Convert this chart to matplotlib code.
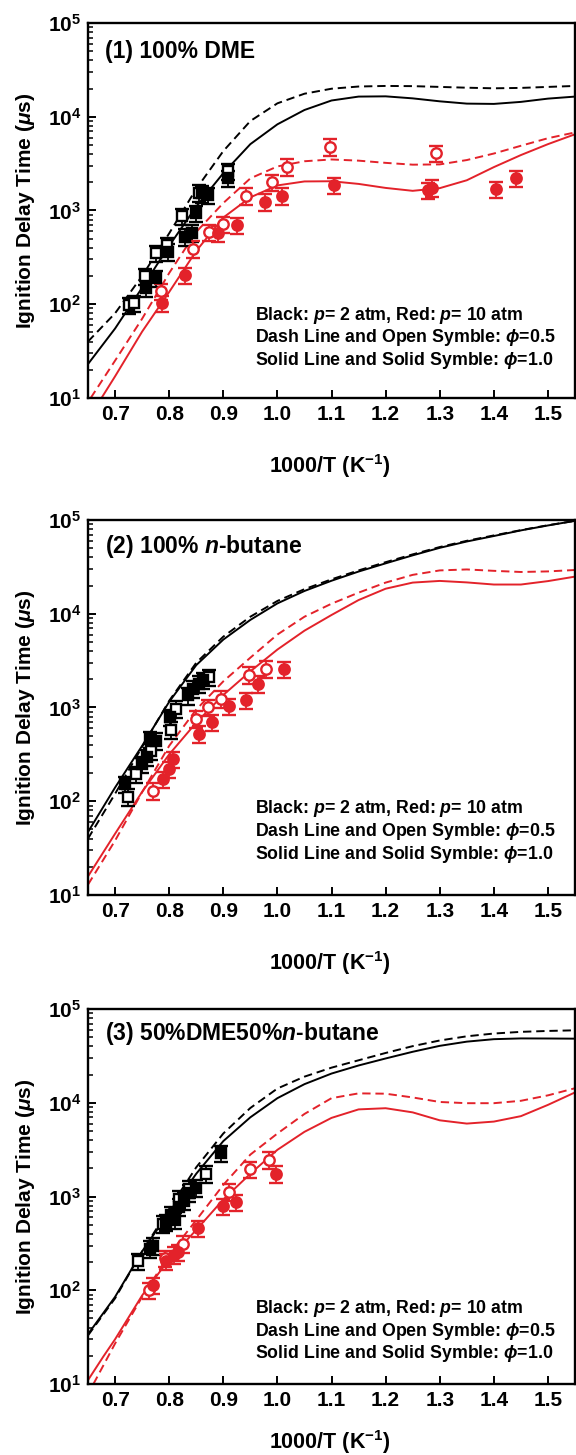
import numpy as np
import matplotlib
matplotlib.use("Agg")
from matplotlib import pyplot as plt
from matplotlib.ticker import LogLocator, NullLocator

# ---------------- data ----------------
# (1) 100% DME
p1_sq_open_x = [0.725, 0.735, 0.755, 0.776, 0.796, 0.824, 0.856, 0.908]
p1_sq_open_y = [98, 103, 200, 350, 425, 870, 1540, 2630]
p1_sq_fill_x = [0.758, 0.776, 0.798, 0.830, 0.842, 0.850, 0.861, 0.871, 0.908]
p1_sq_fill_y = [148, 189, 364, 526, 580, 933, 1520, 1460, 2200]
p1_ci_open_x = [0.785, 0.844, 0.874, 0.899, 0.942, 0.990, 1.018, 1.097, 1.294]
p1_ci_open_y = [138, 390, 585, 718, 1440, 2000, 2930, 4800, 4100]
p1_ci_fill_x = [0.787, 0.830, 0.890, 0.926, 0.977, 1.008, 1.105, 1.279, 1.285, 1.404, 1.441]
p1_ci_fill_y = [102, 205, 572, 700, 1240, 1430, 1870, 1655, 1750, 1680, 2200]

grid_x = [0.65, 0.70, 0.75, 0.80, 0.85, 0.90, 0.95, 1.00, 1.05, 1.10,
          1.15, 1.20, 1.25, 1.30, 1.35, 1.40, 1.45, 1.50, 1.55]

p1_bk_solid = [23, 55, 150, 420, 1100, 2500, 5100, 8300, 11800, 14900,
               16400, 16500, 15700, 14600, 13800, 13700, 14400, 15600, 16400]
p1_bk_dash = [40, 80, 200, 570, 1700, 4300, 9000, 13900, 17600, 19900,
              21000, 21300, 21200, 20800, 20400, 20100, 20300, 20800, 21300]
p1_rd_solid_x = [0.675] + grid_x[1:]
p1_rd_solid = [10, 17, 51, 135, 370, 840, 1380, 1850, 2040, 2050,
               1920, 1740, 1620, 1730, 2100, 2900, 3900, 5100, 6500]
p1_rd_dash_x = [0.655] + grid_x[1:]
p1_rd_dash = [10, 25, 70, 215, 590, 1200, 2200, 2950, 3350, 3500,
              3400, 3220, 3080, 3100, 3450, 4050, 4900, 5900, 6800]

# (2) 100% n-butane
p2_sq_open_x = [0.724, 0.738, 0.767, 0.804, 0.813, 0.874]
p2_sq_open_y = [112, 195, 346, 580, 968, 2110]
p2_sq_fill_x = [0.718, 0.749, 0.759, 0.764, 0.776, 0.801, 0.834, 0.844, 0.856, 0.862]
p2_sq_fill_y = [152, 249, 294, 461, 440, 789, 1345, 1585, 1800, 1945]
p2_ci_open_x = [0.771, 0.850, 0.871, 0.896, 0.948, 0.978]
p2_ci_open_y = [129, 757, 1009, 1240, 2240, 2600]
p2_ci_fill_x = [0.788, 0.800, 0.807, 0.856, 0.880, 0.910, 0.942, 0.965, 1.012]
p2_ci_fill_y = [172, 220, 282, 523, 697, 1035, 1190, 1795, 2550]

p2_bk_solid = [47, 140, 390, 1150, 2830, 5300, 8600, 12900, 17500, 22500,
               28200, 34500, 42000, 50500, 59000, 67500, 77500, 87500, 98000]
p2_bk_dash = [40, 120, 380, 1180, 3000, 5700, 9300, 13700, 18300, 23300,
              29000, 35500, 43000, 51500, 60000, 68500, 78000, 88000, 98000]
p2_rd_solid = [15.8, 45, 126, 316, 690, 1360, 2430, 4150, 6600, 9700,
               14000, 18500, 21500, 22400, 21600, 20500, 20500, 22300, 24900]
p2_rd_dash = [12.9, 38, 125, 390, 950, 1900, 3400, 6000, 9300, 12800,
              16800, 21500, 26000, 29000, 29700, 28700, 27900, 28300, 29300]

# (3) 50%DME50%n-butane
p3_sq_open_x = [0.742, 0.788, 0.818, 0.837, 0.868]
p3_sq_open_y = [205, 513, 946, 1210, 1743]
p3_sq_fill_x = [0.764, 0.770, 0.795, 0.804, 0.810, 0.819, 0.828, 0.837, 0.849, 0.896]
p3_sq_fill_y = [277, 300, 530, 640, 560, 780, 906, 1100, 1240, 2900]
p3_ci_open_x = [0.763, 0.793, 0.825, 0.910, 0.950, 0.985]
p3_ci_open_y = [100, 220, 314, 1130, 1950, 2480]
p3_ci_fill_x = [0.771, 0.795, 0.808, 0.816, 0.853, 0.899, 0.924, 0.997]
p3_ci_fill_y = [113, 205, 240, 255, 462, 790, 872, 1743]

p3_bk_solid = [34, 85, 260, 680, 1750, 3900, 7000, 11200, 15800, 20500,
               25000, 29700, 35000, 40500, 44900, 47700, 48600, 48500, 48300]
p3_bk_dash = [33, 82, 260, 740, 2050, 4700, 8800, 14200, 19000, 23700,
              28400, 34000, 40200, 46200, 51200, 54800, 57100, 58400, 59300]
p3_rd_solid_x = [0.65, 0.678, 0.70, 0.75, 0.80, 0.85, 0.90, 0.95, 1.00, 1.05,
                 1.10, 1.15, 1.20, 1.25, 1.30, 1.35, 1.40, 1.45, 1.50, 1.55]
p3_rd_solid = [11, 19.5, 30, 88, 215, 440, 930, 1750, 3150, 4900,
               6900, 8500, 8750, 7900, 6500, 6000, 6300, 7200, 9500, 12900]
p3_rd_dash_x = [0.66, 0.70, 0.75, 0.80, 0.85, 0.90, 0.95, 1.00, 1.05, 1.10,
                1.15, 1.20, 1.25, 1.30, 1.35, 1.40, 1.45, 1.50, 1.55]
p3_rd_dash = [10, 27, 85, 240, 560, 1330, 2800, 4700, 7600, 11200,
              12600, 12500, 11400, 10200, 9900, 9900, 10500, 12000, 14300]

titles = ["(1) 100% DME", "(2) 100% $\\it{n}$-butane",
          "(3) 50%DME50%$\\it{n}$-butane"]
note_lines = ["Black: $\\it{p}$= 2 atm, Red: $\\it{p}$= 10 atm",
              "Dash Line and Open Symble: $\\phi$=0.5",
              "Solid Line and Solid Symble: $\\phi$=1.0"]
err_frac = 0.2

# ---------------- style ----------------
plt.rcParams['font.family'] = ['Liberation Sans', 'DejaVu Sans']
plt.rcParams['font.weight'] = 'bold'
plt.rcParams['mathtext.fontset'] = 'custom'
plt.rcParams['mathtext.rm'] = 'Liberation Sans:bold'
plt.rcParams['mathtext.it'] = 'Liberation Sans:italic:bold'
plt.rcParams['mathtext.bf'] = 'Liberation Sans:bold'
plt.rcParams['lines.scale_dashes'] = False

RED = '#E3222A'
BLK = 'black'

fig = plt.figure(figsize=(5.76, 14.55), dpi=100)
bottoms = [0.7265, 0.3849, 0.0488]
axes = [fig.add_axes([0.1528, b, 0.8455, 0.2577]) for b in bottoms]

panels = [
    (p1_sq_open_x, p1_sq_open_y, p1_sq_fill_x, p1_sq_fill_y,
     p1_ci_open_x, p1_ci_open_y, p1_ci_fill_x, p1_ci_fill_y,
     (grid_x, p1_bk_solid), (grid_x, p1_bk_dash),
     (p1_rd_solid_x, p1_rd_solid), (p1_rd_dash_x, p1_rd_dash)),
    (p2_sq_open_x, p2_sq_open_y, p2_sq_fill_x, p2_sq_fill_y,
     p2_ci_open_x, p2_ci_open_y, p2_ci_fill_x, p2_ci_fill_y,
     (grid_x, p2_bk_solid), (grid_x, p2_bk_dash),
     (grid_x, p2_rd_solid), (grid_x, p2_rd_dash)),
    (p3_sq_open_x, p3_sq_open_y, p3_sq_fill_x, p3_sq_fill_y,
     p3_ci_open_x, p3_ci_open_y, p3_ci_fill_x, p3_ci_fill_y,
     (grid_x, p3_bk_solid), (grid_x, p3_bk_dash),
     (p3_rd_solid_x, p3_rd_solid), (p3_rd_dash_x, p3_rd_dash)),
]
title_y = [0.923, 0.93, 0.934]
note_y = [0.221, 0.23, 0.202]
xlab_y = [-0.145, -0.145, -0.118]


def pts(ax, x, y, marker, color, filled):
    y = np.array(y, dtype=float)
    ax.errorbar(x, y, yerr=err_frac * y, fmt=marker, ms=7.5,
                mfc=color if filled else 'white', mec=color, mew=1.7,
                ecolor=color, elinewidth=1.3, capsize=5, capthick=1.3,
                zorder=4)


for i, ax in enumerate(axes):
    (sox, soy, sfx, sfy, cox, coy, cfx, cfy, bks, bkd, rds, rdd) = panels[i]
    ax.plot(bks[0], bks[1], color=BLK, lw=1.4, zorder=2)
    ax.plot(bkd[0], bkd[1], color=BLK, lw=1.4, dashes=(6, 3.5), zorder=2)
    ax.plot(rds[0], rds[1], color=RED, lw=1.4, zorder=2)
    ax.plot(rdd[0], rdd[1], color=RED, lw=1.4, dashes=(6, 3.5), zorder=2)
    pts(ax, sox, soy, 's', BLK, False)
    pts(ax, sfx, sfy, 's', BLK, True)
    pts(ax, cox, coy, 'o', RED, False)
    pts(ax, cfx, cfy, 'o', RED, True)

    ax.set_yscale('log')
    ax.set_xlim(0.65, 1.55)
    ax.set_ylim(10, 1e5)
    ax.set_xticks(np.arange(0.7, 1.51, 0.1))
    ax.set_xticklabels(['%.1f' % t for t in np.arange(0.7, 1.51, 0.1)])
    ax.xaxis.set_minor_locator(NullLocator())
    ax.set_yticks([1e1, 1e2, 1e3, 1e4, 1e5])
    ax.set_yticklabels([r'$\mathdefault{10^{%d}}$' % n for n in range(1, 6)])
    ax.yaxis.set_minor_locator(LogLocator(base=10, subs=np.arange(2, 10), numticks=20))
    ax.tick_params(which='major', direction='in', length=6, width=1.4,
                   labelsize=15, pad=5, top=False, right=False)
    ax.tick_params(which='minor', direction='in', length=3.5, width=1.1,
                   top=False, right=False)
    for lab in ax.get_xticklabels() + ax.get_yticklabels():
        lab.set_fontweight('bold')
    for sp in ax.spines.values():
        sp.set_linewidth(1.7)

    ax.set_xlabel('1000/T (K$^{-1}$)', fontsize=15.5, fontweight='bold')
    ax.xaxis.set_label_coords(0.497, xlab_y[i])
    ax.set_ylabel('Ignition Delay Time ($\\mu$s)', fontsize=15, fontweight='bold')
    ax.yaxis.set_label_coords(-0.105, 0.5)

    ax.text(0.035, title_y[i], titles[i], transform=ax.transAxes,
            fontsize=16.5, fontweight='bold', va='center', ha='left')
    for k, line in enumerate(note_lines):
        ax.text(0.343, note_y[i] - k * 0.061, line, transform=ax.transAxes,
                fontsize=12.8, fontweight='bold', va='center', ha='left')

fig.savefig('out.png', dpi=100)
